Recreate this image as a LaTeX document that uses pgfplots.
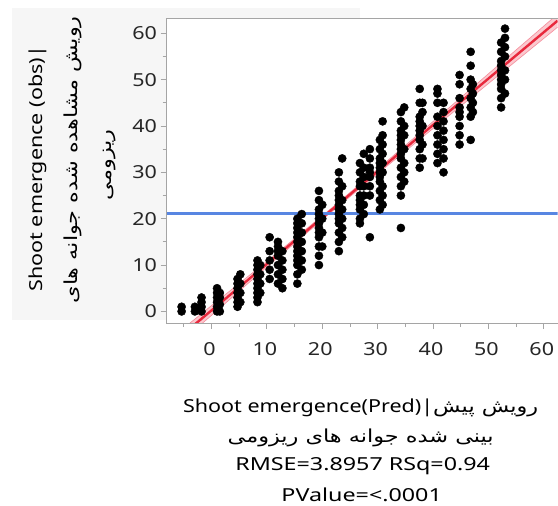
\documentclass[border=0pt]{standalone}
\usepackage{pgfplots}
\pgfplotsset{compat=1.18}
\usepackage{fontspec}
\setmainfont[FakeStretch=1.2]{Noto Sans}
\newfontfamily\statfont[FakeStretch=1.3]{Noto Sans}
\newfontfamily\arabicfont[Script=Arabic]{DejaVu Sans}
\newfontfamily\arabicwide[Script=Arabic,FakeStretch=1.25]{DejaVu Sans}
\TeXXeTstate=1
\definecolor{fitred}{RGB}{232,40,60}
\definecolor{bandpink}{RGB}{251,200,206}
\definecolor{bandedge}{RGB}{245,140,155}
\definecolor{meanblue}{RGB}{88,134,226}
\definecolor{framegray}{RGB}{165,165,165}
\definecolor{panelgray}{RGB}{246,246,246}
\begin{document}
\begin{tikzpicture}
\fill[panelgray] (12bp,186bp) rectangle (360bp,498bp);
\begin{axis}[
  at={(166.7bp,182.7bp)}, anchor=south west,
  width=391.3bp, height=304.8bp, scale only axis,
  xmin=-8.12, xmax=62.48, ymin=-2.5, ymax=63.19,
  axis background/.style={fill=white},
  axis line style={draw=none},
  xtick={0,10,...,60}, ytick={0,10,...,60},
  minor xtick={-5,5,...,55}, minor ytick={-5,5,...,55},
  tick align=outside, tick pos=left,
  major tick length=6bp, minor tick length=4bp,
  every tick/.style={framegray, line width=0.8bp},
  tick label style={font=\fontsize{18}{21}\selectfont, text=black!85},
  xticklabel style={yshift=-10bp, xshift=-2bp},
  /pgf/number format/assume math mode=true,
  clip=true,
]
% confidence band of the fit
\addplot[fill=bandpink, draw=none] coordinates {
 (-8.12,-6.6) (0,1.25) (10,10.8) (21,21.6) (30,30.7) (40,40.95) (50,51.25) (62.48,64.1)
 (62.48,61.3) (50,49.15) (40,39.45) (30,29.7) (21,20.8) (10,9.6) (0,-0.85) (-8.12,-9.2)} -- cycle;
\addplot[draw=bandedge, line width=0.6bp] coordinates {
 (-8.12,-6.6) (0,1.25) (10,10.8) (21,21.6) (30,30.7) (40,40.95) (50,51.25) (62.48,64.1)};
\addplot[draw=bandedge, line width=0.6bp] coordinates {
 (-8.12,-9.2) (0,-0.85) (10,9.6) (21,20.8) (30,29.7) (40,39.45) (50,49.15) (62.48,61.3)};
% fit line
\addplot[fitred, line width=2.4bp] coordinates {(-8.12,-7.9) (62.48,62.7)};
% observations
\addplot[only marks, mark=*, mark size=4.1bp, mark options={fill=black, draw=black}] coordinates {
(-5.4,0) (-5.4,1)
(-3.0,0) (-3.0,1)
(-1.8,0) (-1.8,1) (-1.8,2) (-1.8,3)
(1.0,0) (1.0,1) (1.0,2) (1.0,3) (1.0,4) (1.0,5)
(1.5,0) (1.5,1.5) (1.5,3) (1.5,4)
(4.7,1) (4.7,2) (4.7,3) (4.7,4) (4.7,5) (4.7,6) (4.7,7)
(5.2,2) (5.2,4) (5.2,6) (5.2,8)
(8.3,2) (8.3,3) (8.3,4) (8.3,5) (8.3,6) (8.3,7) (8.3,8) (8.3,9) (8.3,10) (8.3,11)
(8.8,4) (8.8,6) (8.8,8) (8.8,10)
(10.5,7) (10.5,9) (10.5,11) (10.5,13) (10.5,16)
(12.0,6) (12.0,8) (12.0,10) (12.0,12) (12.0,13) (12.0,14) (12.0,15)
(12.8,5) (12.8,7) (12.8,9) (12.8,11) (12.8,13)
(15.5,6) (15.5,8) (15.5,10) (15.5,11) (15.5,12) (15.5,13) (15.5,14) (15.5,15) (15.5,16) (15.5,17) (15.5,18) (15.5,19) (15.5,20)
(16.3,9) (16.3,11) (16.3,13) (16.3,15) (16.3,17) (16.3,19) (16.3,21)
(19.4,10) (19.4,12) (19.4,14) (19.4,16) (19.4,17) (19.4,18) (19.4,19) (19.4,20) (19.4,21) (19.4,22) (19.4,24) (19.4,26)
(20.0,14) (20.0,17) (20.0,20) (20.0,23)
(23.0,13) (23.0,15) (23.0,17) (23.0,19) (23.0,20) (23.0,21) (23.0,22) (23.0,23) (23.0,24) (23.0,25) (23.0,26) (23.0,28) (23.0,30)
(23.6,16) (23.6,18) (23.6,20) (23.6,22) (23.6,24) (23.6,27) (23.6,33)
(26.8,19) (26.8,20) (26.8,22) (26.8,23) (26.8,24) (26.8,25) (26.8,27) (26.8,28) (26.8,30) (26.8,32)
(27.5,21) (27.5,23) (27.5,25) (27.5,27) (27.5,29) (27.5,31) (27.5,34)
(28.6,16) (28.6,25) (28.6,27) (28.6,29) (28.6,30) (28.6,31) (28.6,33) (28.6,35)
(30.4,22) (30.4,24) (30.4,26) (30.4,28) (30.4,29) (30.4,30) (30.4,31) (30.4,32) (30.4,33) (30.4,35) (30.4,37)
(30.9,23) (30.9,25) (30.9,27) (30.9,30) (30.9,32) (30.9,34) (30.9,36) (30.9,38) (30.9,41)
(34.2,18) (34.2,25) (34.2,27) (34.2,29) (34.2,31) (34.2,33) (34.2,34) (34.2,35) (34.2,36) (34.2,37) (34.2,38) (34.2,39) (34.2,41) (34.2,43)
(34.8,28) (34.8,30) (34.8,32) (34.8,35) (34.8,38) (34.8,40) (34.8,44)
(37.6,31) (37.6,33) (37.6,35) (37.6,37) (37.6,38) (37.6,39) (37.6,40) (37.6,41) (37.6,42) (37.6,45) (37.6,48)
(38.1,33) (38.1,36) (38.1,40) (38.1,43) (38.1,45)
(40.8,32) (40.8,34) (40.8,36) (40.8,38) (40.8,40) (40.8,42) (40.8,45) (40.8,47) (40.8,48)
(41.9,30) (41.9,33) (41.9,35) (41.9,37) (41.9,39) (41.9,41) (41.9,43) (41.9,45)
(44.8,36) (44.8,38) (44.8,40) (44.8,42) (44.8,43) (44.8,44) (44.8,46) (44.8,49) (44.8,51)
(46.8,37) (46.8,42) (46.8,44) (46.8,46) (46.8,48) (46.8,50) (46.8,53) (46.8,56)
(47.2,43) (47.2,45) (47.2,47) (47.2,49)
(52.3,44) (52.3,46) (52.3,48) (52.3,49) (52.3,50) (52.3,51) (52.3,52) (52.3,53) (52.3,54) (52.3,56) (52.3,58)
(53.0,47) (53.0,50) (53.0,52) (53.0,55) (53.0,57) (53.0,59) (53.0,61)
};
% mean line
\addplot[meanblue, line width=3bp] coordinates {(-8.12,21.15) (62.48,21.15)};
\end{axis}
\draw[framegray, line width=1bp] (558bp,487.5bp) -- (166.7bp,487.5bp) -- (166.7bp,182.7bp) -- (558bp,182.7bp);
% y axis title
\node[rotate=90, font=\fontsize{18}{21}\selectfont] at (38bp,337bp) {Shoot emergence (obs)|};
\node[rotate=90, font=\fontsize{18}{21}\selectfont] at (73bp,346bp) {\arabicwide\beginR رویش مشاهده شده جوانه های\endR};
\node[rotate=90, font=\fontsize{18}{21}\selectfont] at (110bp,341bp) {\arabicwide\beginR ریزومی\endR};
% x axis title and statistics
\node[font=\fontsize{18}{21}\selectfont] at (361bp,98bp) {Shoot emergence(Pred)|{\arabicwide\beginR رویش پیش\endR}};
\node[font=\fontsize{18}{21}\selectfont] at (361bp,68bp) {\arabicwide\beginR بینی شده جوانه های ریزومی\endR};
\node[font=\fontsize{18}{21}\selectfont\statfont] at (363bp,39bp) {RMSE=3.8957 RSq=0.94};
\node[font=\fontsize{18}{21}\selectfont\statfont] at (362bp,11bp) {PValue=<.0001};
\path[use as bounding box] (0,0) rectangle (558bp,506bp);
\end{tikzpicture}
\end{document}
